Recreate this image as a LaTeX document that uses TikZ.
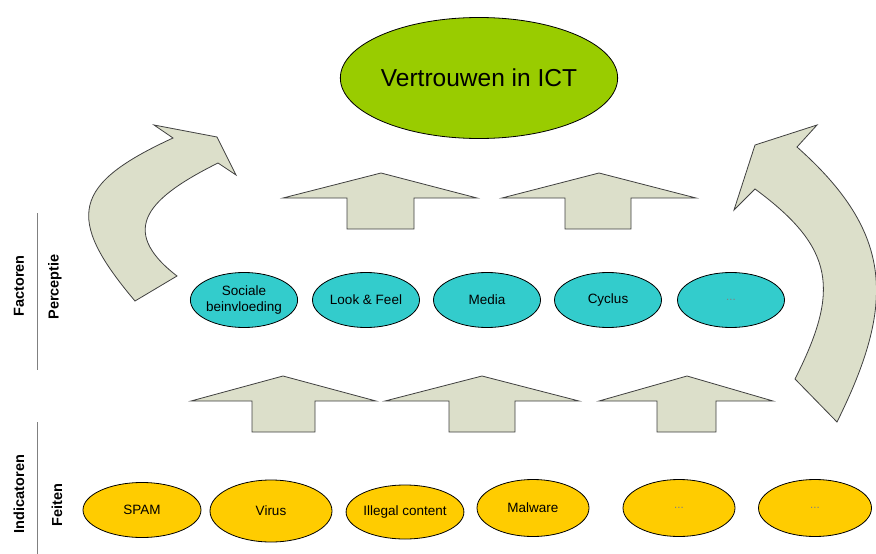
\documentclass[tikz,border=0pt]{standalone}
\usepackage{fontspec}
\setmainfont{Liberation Sans}
\usetikzlibrary{shapes.geometric}

\definecolor{trustgreen}{HTML}{99CC00}
\definecolor{perceptteal}{HTML}{33CCCC}
\definecolor{factyellow}{HTML}{FFCC00}
\definecolor{arrowfill}{HTML}{DCDFCA}
\definecolor{arrowline}{HTML}{404040}

\tikzset{
  perceptbox/.style={ellipse, draw=black, fill=perceptteal, line width=0.8pt,
    minimum width=107pt, minimum height=55pt, inner sep=0pt, align=center,
    font=\fontsize{13.5}{16}\selectfont},
  factbox/.style={ellipse, draw=black, fill=factyellow, line width=0.8pt,
    minimum width=114pt, minimum height=57pt, inner sep=0pt,
    font=\fontsize{13.5}{16}\selectfont},
  dotstext/.style={text=gray, font=\fontsize{11.5}{12}\selectfont},
  blockarrow/.style={draw=arrowline, fill=arrowfill, line width=0.8pt},
  sidelabel/.style={rotate=90, inner sep=0pt, font=\fontsize{14.5}{16}\selectfont\bfseries},
  sideline/.style={draw=gray, line width=0.9pt}
}

\begin{document}
\begin{tikzpicture}[x=1pt, y=-1pt]
    \useasboundingbox (0,0) rectangle (876,554);

    % Curved arrows at the sides
    \draw[blockarrow] (135,301) .. controls (64,217) and (73,184) .. (173,138)
        -- (154,125) -- (217,137) -- (236,175) -- (218,163)
        .. controls (150,197) and (116,229) .. (177,276) -- cycle;
    \draw[blockarrow] (797,147) .. controls (895,234) and (895,305) .. (837,422)
        -- (795,379) .. controls (840,290) and (835,248) .. (755,189)
        -- (734,210) -- (755,145) -- (817,125) -- cycle;

    % Top node
    \node[ellipse, draw=black, fill=trustgreen, line width=0.8pt, minimum width=262pt,
        minimum height=121pt, inner sep=0pt, font=\fontsize{24.5}{28}\selectfont]
        (trust) at (479,78) {Vertrouwen in ICT};

    % Up arrows between the rows
    \foreach \l/\sl/\t/\sr/\r in {283/347/381/414/477, 502/565/599/631/696}
        \draw[blockarrow] (\l,198) -- (\t,173) -- (\r,198) -- (\sr,198)
            -- (\sr,229) -- (\sl,229) -- (\sl,198) -- cycle;
    \foreach \l/\sl/\t/\sr/\r in {191/252/283/315/376, 385/449/482/515/579, 599/657/687/716/773}
        \draw[blockarrow] (\l,401) -- (\t,376) -- (\r,401) -- (\sr,401)
            -- (\sr,432) -- (\sl,432) -- (\sl,401) -- cycle;

    % Perceptie row
    \node[perceptbox] (sociale) at (244,300) {Sociale\\beinvloeding};
    \node[perceptbox] (lookfeel) at (366,300) {Look \& Feel};
    \node[perceptbox] (media) at (487,300) {Media};
    \node[perceptbox] (cyclus) at (608,300) {Cyclus};
    \node[perceptbox, dotstext] (perceptdots) at (731,300) {...};

    % Feiten row
    \node[factbox, minimum width=118pt, minimum height=55pt] (spam) at (142,510) {SPAM};
    \node[factbox, minimum width=122pt, minimum height=62pt] (virus) at (271,511) {Virus};
    \node[factbox, minimum width=116pt, minimum height=54pt] (illegal) at (405,512) {Illegal content};
    \node[factbox, minimum width=112pt] (malware) at (533,508) {Malware};
    \node[factbox, minimum width=112pt, dotstext] (factdotsa) at (679,508) {...};
    \node[factbox, minimum width=113pt, dotstext] (factdotsb) at (815,508) {...};

    % Side labels
    \node[sidelabel] (factoren) at (19,286) {Factoren};
    \node[sidelabel] (perceptie) at (55,287) {Perceptie};
    \node[sidelabel] (indicatoren) at (19,494) {Indicatoren};
    \node[sidelabel] (feiten) at (57,505) {Feiten};
    \draw[sideline] (37,213) -- (37,370);
    \draw[sideline] (37,422) -- (37,554);
\end{tikzpicture}
\end{document}
